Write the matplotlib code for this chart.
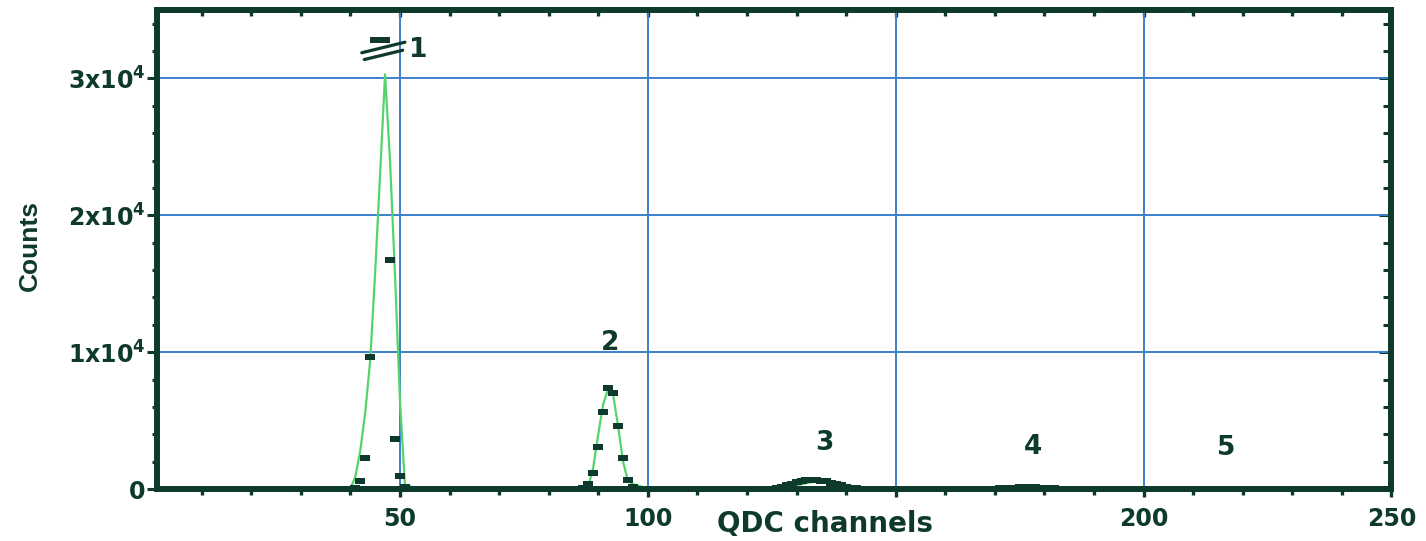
import numpy as np
import matplotlib.pyplot as plt
from matplotlib.ticker import FixedLocator
from matplotlib.transforms import offset_copy

plt.rcParams['font.family'] = 'DejaVu Sans'
plt.rcParams['font.weight'] = 'bold'
plt.rcParams['mathtext.fontset'] = 'dejavusans'

# measured spectrum: channel -> counts, one block per peak
# (channels 45-47 of peak 1 run off scale and sit at the break level)
ch_p1 = [41, 42, 43, 44, 45, 46, 47, 48, 49, 50, 51]
cnt_p1 = [100, 610, 2250, 9680, 32800, 32800, 32800, 16700, 3660, 970, 120]
ch_p2 = [87, 88, 89, 90, 91, 92, 93, 94, 95, 96, 97]
cnt_p2 = [100, 365, 1150, 3050, 5650, 7410, 7050, 4630, 2290, 660, 150]
ch_p3 = [125, 126, 127, 128, 129, 130, 131, 132, 133, 134,
         135, 136, 137, 138, 139, 140, 141, 142, 143]
cnt_p3 = [20, 70, 150, 260, 380, 480, 570, 630, 660, 670,
          620, 560, 460, 360, 260, 170, 90, 40, 10]
ch_p4 = [170, 171, 172, 173, 174, 175, 176, 177, 178, 179, 180, 181, 182, 183]
cnt_p4 = [30, 50, 70, 90, 110, 120, 130, 130, 120, 110, 90, 70, 50, 30]

# fitted curves
fit_ch_p1 = [40, 41, 42, 43, 44, 45, 46, 47, 48, 49, 50, 51, 52, 53, 54]
fit_p1 = [0, 900, 2800, 5600, 9400, 15800, 23000, 30300, 24000, 15700, 6500, 300, 200, 100, 0]
fit_ch_p2 = [87, 88, 89, 90, 91, 92, 93, 94, 95, 96, 97, 98, 99, 100]
fit_p2 = [0, 200, 1600, 4000, 6200, 7300, 6900, 4600, 2000, 600, 350, 250, 150, 0]
fit_ch_p3 = [125, 126, 127, 128, 129, 130, 131, 132, 133, 134,
             135, 136, 137, 138, 139, 140, 141, 142, 143]
fit_p3 = [0, 30, 70, 130, 200, 270, 350, 430, 500, 530,
          510, 450, 370, 290, 210, 140, 80, 30, 0]
fit_ch_p4 = [170, 172, 174, 176, 178, 180, 182, 184]
fit_p4 = [0, 50, 90, 110, 100, 70, 30, 0]

peak_names = ['1', '2', '3', '4', '5']
peak_label_x = [53.6, 92.4, 135.7, 177.7, 216.6]
peak_label_y = [32100, 10700, 3350, 3050, 3000]

x_major = [50, 100, 150, 200, 250]
x_ticklabels = ['50', '100', '', '200', '250']   # 150 sits under the axis title
x_minor = [c for c in range(10, 250, 10) if c % 50]
y_major = [0, 10000, 20000, 30000]
y_minor = [v for v in range(2000, 35000, 2000) if v % 10000]
y_ticklabels = ['0', r'1x10$^{\mathbf{4}}$', r'2x10$^{\mathbf{4}}$', r'3x10$^{\mathbf{4}}$']

dark = '#0e3a2d'
green = '#55d46c'
blue = '#3d80cf'

fig = plt.figure(figsize=(14.26, 5.41), dpi=100)
ax = fig.add_axes([0.1101, 0.0961, 0.8657, 0.8854])

# dash-shaped markers for the counts
dash = [(-1, -0.47), (1, -0.47), (1, 0.47), (-1, 0.47), (-1, -0.47)]
for ch, cnt in [(ch_p1, cnt_p1), (ch_p2, cnt_p2), (ch_p3, cnt_p3), (ch_p4, cnt_p4)]:
    ax.plot(ch, cnt, ls='none', marker=dash, ms=7.7, mew=0, color=dark, zorder=3)

for ch, fit in [(fit_ch_p1, fit_p1), (fit_ch_p2, fit_p2), (fit_ch_p3, fit_p3), (fit_ch_p4, fit_p4)]:
    ax.plot(ch, fit, color=green, lw=1.6, zorder=2.5)

# axis break over the clipped top of peak 1
top_ch = ch_p1[cnt_p1.index(max(cnt_p1)) + 1]
top_cnt = max(cnt_p1)
for (x0, y0), (x1, y1) in [((-13.2, -9.1), (17.9, -1.5)), ((-11.4, -14.0), (16.3, -7.3))]:
    ax.annotate('', xy=(top_ch, top_cnt), xytext=(top_ch, top_cnt),
                xycoords=offset_copy(ax.transData, fig, x=x1, y=y1, units='points'),
                textcoords=offset_copy(ax.transData, fig, x=x0, y=y0, units='points'),
                arrowprops=dict(arrowstyle='-', lw=2.3, color=dark, shrinkA=0, shrinkB=0))

for name, lx, ly in zip(peak_names, peak_label_x, peak_label_y):
    ax.text(lx, ly, name, ha='center', va='center', fontsize=19, color=dark)

ax.set_xlim(1, 250)
ax.set_ylim(0, 35000)

ax.xaxis.set_major_locator(FixedLocator(x_major))
ax.xaxis.set_minor_locator(FixedLocator(x_minor))
ax.yaxis.set_major_locator(FixedLocator(y_major))
ax.yaxis.set_minor_locator(FixedLocator(y_minor))
ax.set_xticklabels(x_ticklabels)
ax.set_yticklabels(y_ticklabels)

ax.grid(which='major', color=blue, lw=1.4)
ax.set_axisbelow(True)

for side in ax.spines.values():
    side.set_linewidth(4.3)
    side.set_color(dark)

ax.tick_params(axis='x', which='major', direction='out', length=6, width=2.4,
               color=dark, labelcolor=dark, labelsize=17, pad=7)
ax.tick_params(axis='x', which='minor', direction='out', length=4, width=2.4, color=dark)
ax.tick_params(axis='y', which='major', direction='out', length=7.2, width=2.2,
               color=dark, labelcolor=dark, labelsize=17, pad=1)
ax.tick_params(axis='y', which='minor', direction='out', length=3.8, width=2.2, color=dark)

# inward ticks along the top and right frame
top = ax.secondary_xaxis('top')
top.set_ticks(x_major)
top.xaxis.set_minor_locator(FixedLocator(x_minor))
top.tick_params(which='major', direction='in', length=5, width=2.4, color=dark, labeltop=False)
top.tick_params(which='minor', direction='in', length=4.5, width=2.4, color=dark)
top.spines['top'].set_visible(False)

right = ax.secondary_yaxis('right')
right.set_ticks(y_major)
right.yaxis.set_minor_locator(FixedLocator(y_minor))
right.tick_params(which='major', direction='in', length=8.5, width=2.2, color=dark, labelright=False)
right.tick_params(which='minor', direction='in', length=5.5, width=2.2, color=dark)
right.spines['right'].set_visible(False)

ax.set_xlabel('QDC channels', fontsize=20, fontweight='bold', color=dark, va='center')
ax.xaxis.set_label_coords(0.541, -0.073)
ax.set_ylabel('Counts', fontsize=19, fontweight='bold', color=dark, va='center',
              family=['Liberation Sans Narrow', 'Liberation Sans'])
ax.yaxis.set_label_coords(-0.1029, 0.509)

fig.savefig('out.png', dpi=100)
